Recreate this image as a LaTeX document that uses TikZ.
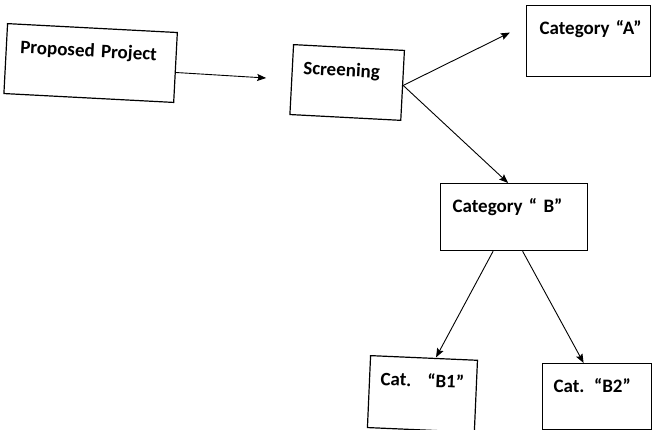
\documentclass[tikz,border=0pt]{standalone}
\usepackage{fontspec}
\setmainfont{Carlito}
\usetikzlibrary{arrows.meta}

\begin{document}
\begin{tikzpicture}[
  x=1pt,y=-1pt,
  box/.style={draw,line width=1.2pt,rectangle,anchor=north west,align=left,
    font=\fontsize{19}{20}\selectfont\bfseries,
    inner xsep=13pt,inner ysep=0pt,text height=29pt},
  >={Stealth[length=9pt,width=7pt,inset=1.5pt]},
  every path/.style={line width=0.9pt}]
  \useasboundingbox (0,0) rectangle (652,430);
  \node (PP) [box,rotate=-3,inner xsep=14pt,text width=142pt,text depth=41pt] at (7,23) {Proposed Project};
  \node (Scr) [box,rotate=-3,inner xsep=11pt,text width=89pt,text depth=41pt] at (293,44) {Screening};
  \node (A) [box,inner xsep=8pt,text width=108pt,text depth=42pt] at (526,5) {\hspace*{5pt}Category “A”};
  \node (B) [box,inner xsep=12pt,text width=123pt,text depth=38pt] at (440,183) {Category “ B”};
  \node (B1) [box,rotate=-2.5,inner xsep=11pt,text width=85pt,text depth=43pt] at (370,355) {Cat.~ “B1”};
  \node (B2) [box,inner xsep=11pt,text width=87pt,text depth=37pt] at (542,363) {Cat. “B2”};
  \draw[->,shorten >=25pt] ([yshift=-5pt]PP.east) -- (Scr.west);
  \draw[->,shorten >=18pt] (Scr.east) -- ([yshift=16.5pt]A.west);
  \draw[->] (Scr.east) -- ([xshift=-6pt]B.north);
  \draw[->] ([xshift=-21pt]B.south) -- ([xshift=12pt]B1.north);
  \draw[->] ([xshift=8.5pt]B.south) -- ([xshift=-13.5pt]B2.north);
\end{tikzpicture}
\end{document}
